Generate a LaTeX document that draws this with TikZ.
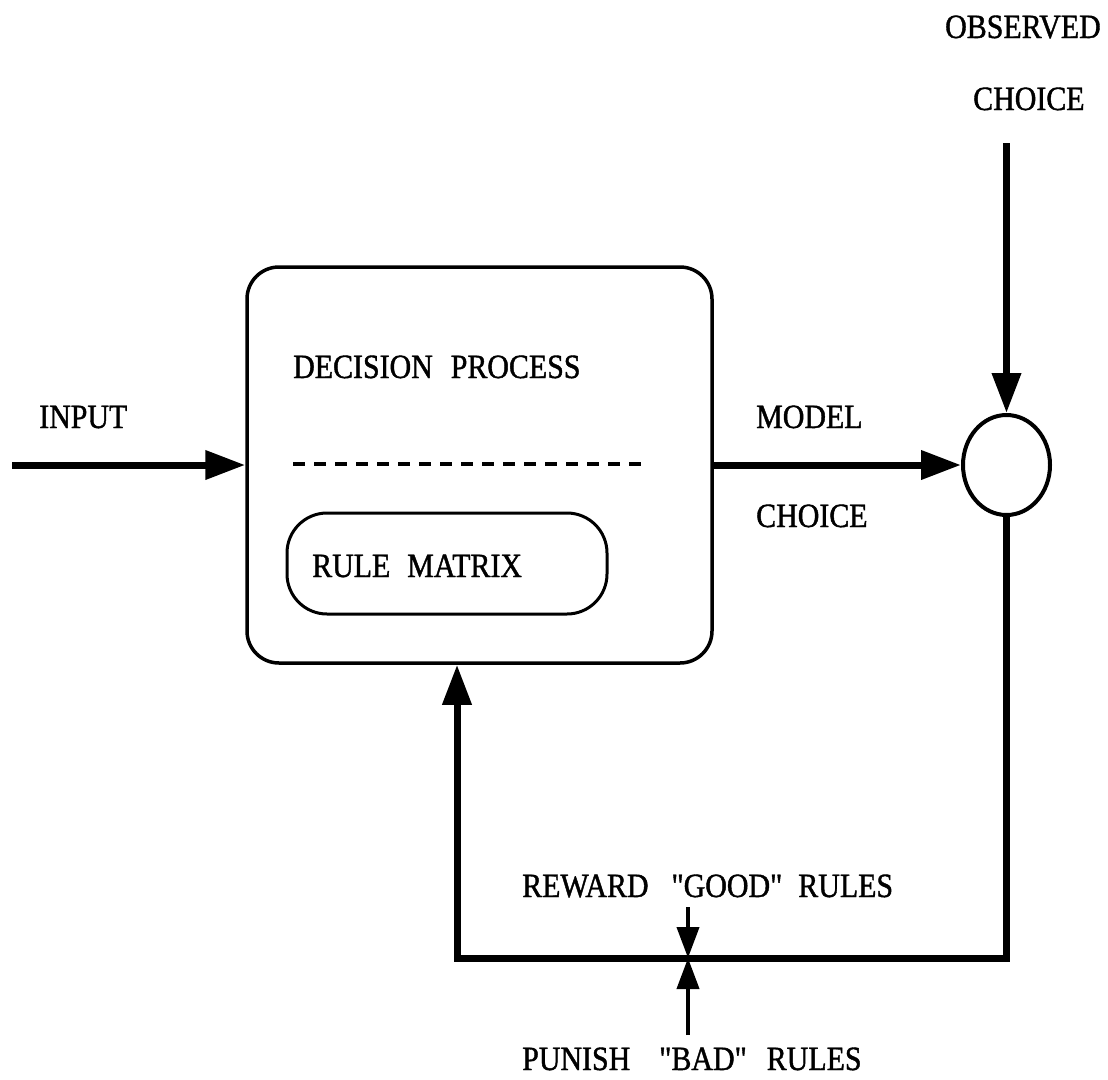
\documentclass[tikz,border=0pt]{standalone}
\usepackage{fontspec}
\setmainfont{Liberation Serif}[FakeStretch=0.88, FakeBold=1.2, Ligatures=TeXOff]
\usetikzlibrary{arrows.meta,shapes.geometric}

\begin{document}
\begin{tikzpicture}[x=1pt,y=-1pt,
  lbl/.style={inner sep=0pt, anchor=base west, font=\fontsize{34}{40}\selectfont},
  block/.style={draw, line width=3.5pt, rounded corners=32pt, inner sep=0pt},
  flow/.style={line width=7pt, line join=miter, -{Triangle[length=40pt,width=28pt]}},
  cue/.style={line width=4pt, -{Triangle[length=31pt,width=22pt]}},
]
\useasboundingbox (0,0) rectangle (1108,1079);

% decision process with its rule matrix
\node[block, minimum width=465pt, minimum height=396pt] (dp) at (479.5,465) {};
\node[block, rounded corners=40pt, line width=3pt, minimum width=320pt, minimum height=101pt] (rm) at (447,563.5) {};
\coordinate (dsA) at (293,464);
\coordinate (dsB) at (648,464);
\draw[line width=3.5pt, dash pattern=on 12pt off 9pt] (dsA) -- (dsB);

% comparator
\node[draw, ellipse, line width=4pt, inner sep=0pt, minimum width=87pt, minimum height=100pt] (cmp) at (1006.5,465) {};

% labels
\node[lbl] (tdp)  at (293,378)  {DECISION\hspace{18pt}PROCESS};
\node[lbl] (trm)  at (312,577)  {RULE\hspace{17pt}MATRIX};
\node[lbl] (tin)  at (39,428)   {INPUT};
\node[lbl] (tmod) at (756,428)  {MODEL};
\node[lbl] (tch)  at (756,527)  {CHOICE};
\node[lbl] (tobs) at (945,38)   {OBSERVED};
\node[lbl] (toch) at (973,110)  {CHOICE};
\node[lbl] (trw)  at (522,897)  {REWARD\hspace{23pt}"GOOD"\hspace{16pt}RULES};
\node[lbl] (tpn)  at (522,1070) {PUNISH\hspace{29pt}"BAD"\hspace{20pt}RULES};

% connectors
\coordinate (src) at (12,465);
\coordinate (obs) at (1006.5,143);
\coordinate (jn)  at (688,958);
\coordinate (fbx) at (457,958);
\coordinate (rw)  at (688,907);
\coordinate (pn)  at (688,1035);

\draw[flow] (src) -- (dp.west);
\draw[flow] (dp.east) -- (cmp.west);
\draw[flow] (obs) -- (cmp.north);
\draw[flow] (cmp.south) |- (fbx) -- (fbx |- dp.south);
\draw[cue] (rw) -- (jn);
\draw[cue] (pn) -- (jn);
\end{tikzpicture}
\end{document}
